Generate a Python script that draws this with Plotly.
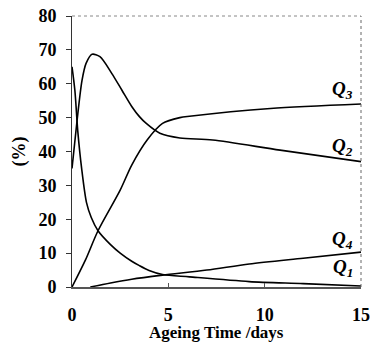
import plotly.graph_objects as go

# Data
q1_t = [0, 0.15, 0.3, 0.5, 0.75, 1.0, 1.35, 2.0, 2.5, 3.1, 3.5, 4.0, 4.7, 6.1, 9.2, 12, 15]
q1_v = [65, 58, 46, 35, 25, 20.5, 16.6, 12.5, 10, 7.6, 6.3, 4.9, 3.7, 3.0, 1.6, 1.0, 0.3]

q2_t = [0, 0.26, 0.52, 0.73, 1.04, 1.45, 2.07, 2.6, 3.1, 3.5, 3.87, 4.56, 5.6, 7.3, 10.8, 15]
q2_v = [35, 49, 61, 66, 68.7, 68, 63, 58, 53.3, 50.3, 48.2, 45.4, 44, 43.4, 40.4, 37]

q3_t = [0, 0.7, 1.35, 2.5, 3.1, 3.9, 4.7, 5.6, 6.1, 10.3, 15]
q3_v = [0, 8, 16.6, 28.6, 36, 43.4, 48.3, 50, 50.4, 52.7, 54]

q4_t = [0.95, 2.0, 3.1, 4.7, 7, 9.2, 12, 15]
q4_v = [0, 1.2, 2.3, 3.5, 5, 6.8, 8.5, 10.3]

x_ticks = [0, 5, 10, 15]
y_ticks = [0, 10, 20, 30, 40, 50, 60, 70, 80]

labels = ["Q<sub>1</sub>", "Q<sub>2</sub>", "Q<sub>3</sub>", "Q<sub>4</sub>"]
label_y = [5.6, 41.3, 58.1, 13.9]
label_x = 14.06

x_title = "Ageing Time /days"
y_title = "(%)"

FONT = "Times New Roman"

fig = go.Figure()
for t, v in [(q1_t, q1_v), (q2_t, q2_v), (q3_t, q3_v), (q4_t, q4_v)]:
    fig.add_trace(go.Scatter(x=t, y=v, mode="lines",
                             line=dict(color="black", width=1.6, shape="spline", smoothing=0.8),
                             showlegend=False, hoverinfo="skip"))

for lab, ly in zip(labels, label_y):
    fig.add_annotation(x=label_x, y=ly, text="<b><i>" + lab + "</i></b>", showarrow=False,
                       font=dict(family=FONT, size=19, color="black"))

# axis titles
fig.add_annotation(xref="paper", yref="paper", x=0.5, y=-0.168, yanchor="middle",
                   text="<b>" + x_title + "</b>", showarrow=False,
                   font=dict(family=FONT, size=17, color="black"))
fig.add_annotation(xref="paper", yref="paper", x=-0.18, y=0.5, xanchor="center", yanchor="middle",
                   textangle=-90, text="<b>" + y_title + "</b>", showarrow=False,
                   font=dict(family=FONT, size=18, color="black"))

# dotted top and right frame
fig.add_shape(type="line", xref="x domain", yref="y domain", x0=0, x1=1, y0=1, y1=1,
              line=dict(color="#888", width=1, dash="dot"))
fig.add_shape(type="line", xref="x domain", yref="y domain", x0=1, x1=1, y0=0, y1=1,
              line=dict(color="#666", width=1, dash="dot"))

fig.update_layout(
    width=372, height=343,
    margin=dict(l=72, r=11, t=16, b=56),
    paper_bgcolor="white", plot_bgcolor="white",
    font=dict(family=FONT, color="black"),
    xaxis=dict(range=[0, 15], tickvals=x_ticks, ticktext=["<b>%d</b>" % v for v in x_ticks],
               showgrid=False, zeroline=False, showline=True, linecolor="#555", linewidth=1.5,
               ticks="inside", ticklen=4, tickcolor="#555", automargin=False,
               tickfont=dict(family=FONT, size=18, color="black"), ticklabelstandoff=11),
    yaxis=dict(range=[0, 80], tickvals=y_ticks, ticktext=["<b>%d</b>" % v for v in y_ticks],
               showgrid=False, zeroline=False, showline=True, linecolor="#333", linewidth=1,
               ticks="outside", ticklen=5, tickcolor="#333", automargin=False,
               tickfont=dict(family=FONT, size=18, color="black"), ticklabelstandoff=6),
)

fig.write_html("out.html")
